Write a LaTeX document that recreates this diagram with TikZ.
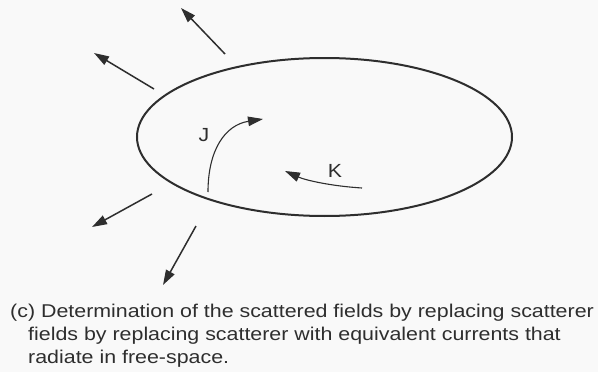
\documentclass[tikz,border=0pt]{standalone}
\usepackage{fontspec}
\setmainfont{Liberation Sans}
\usetikzlibrary{shapes.geometric,arrows.meta}
\definecolor{ink}{HTML}{2E2E2E}
\definecolor{paper}{HTML}{F9F9F9}
\tikzset{
  ray/.style={draw=ink, line width=1.5pt, -{Triangle[length=15pt,width=9.5pt]}},
  current/.style={draw=ink, line width=1.1pt, -{Triangle[length=15pt,width=9.5pt]}},
  lbl/.style={text=ink, font=\fontsize{19}{22}\selectfont, inner sep=0pt, xscale=1.12},
  captext/.style={text=ink, font=\fontsize{18.5}{23}\selectfont, inner sep=0pt, anchor=base west, xscale=1.156}
}
\begin{document}
\begin{tikzpicture}[x=1pt,y=-1pt]
\fill[paper] (0,0) rectangle (598,372);
\useasboundingbox (0,0) rectangle (598,372);
\node[ellipse, draw=ink, line width=2pt, minimum width=375pt, minimum height=158pt, inner sep=0pt] (body) at (324.5,137) {};
% radiating arrows
\coordinate (r1s) at (225,54);  \coordinate (r1e) at (181,8);
\coordinate (r2s) at (154,89);  \coordinate (r2e) at (94,53);
\coordinate (r3s) at (152,194); \coordinate (r3e) at (92,227);
\coordinate (r4s) at (196,226); \coordinate (r4e) at (163,285);
\draw[ray] (r1s) -- (r1e);
\draw[ray] (r2s) -- (r2e);
\draw[ray] (r3s) -- (r3e);
\draw[ray] (r4s) -- (r4e);
% currents
\coordinate (js) at (208,192); \coordinate (je) at (263,119);
\draw[current] (js) .. controls (208,150) and (225,125) .. (je);
\coordinate (ks) at (362,188); \coordinate (ke) at (285,171);
\draw[current] (ks) .. controls (330,186) and (305,180) .. (ke);
\node[lbl] (J) at (204,135) {J};
\node[lbl] (K) at (335,171) {K};
\node[captext] (cap1) at (10,317) {(c) Determination of the scattered fields by replacing scatterer};
\node[captext] (cap2) at (28,340) {fields by replacing scatterer with equivalent currents that};
\node[captext] (cap3) at (28,363) {radiate in free-space.};
\end{tikzpicture}
\end{document}
